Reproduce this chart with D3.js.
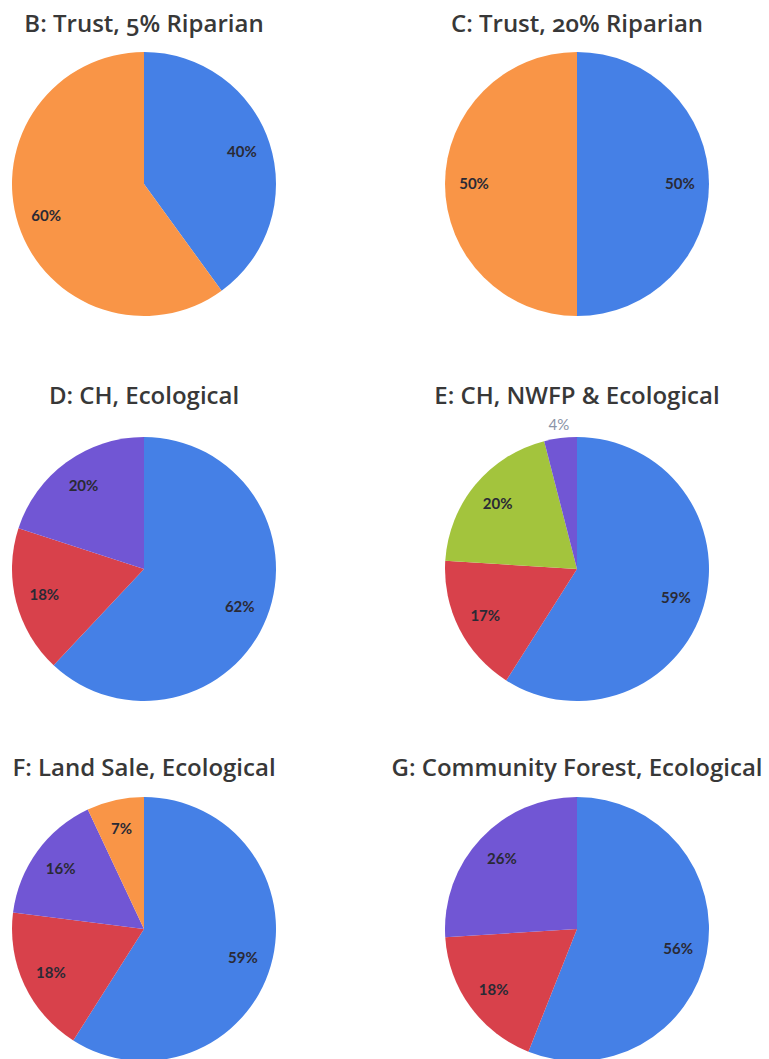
<!DOCTYPE html>
<html>
<head>
<meta charset="utf-8">
<script src="https://cdn.jsdelivr.net/npm/d3@7"></script>
<style>
  html, body { margin: 0; padding: 0; background: #fff; overflow: hidden; }
  svg { display: block; }
  .title { font-family: "Open Sans", Lato, sans-serif; font-size: 24px; font-weight: 600; fill: #383838; font-variant-numeric: oldstyle-nums; }
  .lbl { font-family: Lato, "Open Sans", sans-serif; font-size: 15px; font-weight: bold; fill: #2a2a35; }
</style>
</head>
<body>
<div id="chart"></div>
<script>
// chart data
var titles = ["B: Trust, 5% Riparian", "C: Trust, 20% Riparian",
              "D: CH, Ecological", "E: CH, NWFP & Ecological",
              "F: Land Sale, Ecological", "G: Community Forest, Ecological"];
var categories = [["cat1", "cat5"], ["cat1", "cat5"],
                  ["cat1", "cat2", "cat3"], ["cat1", "cat2", "cat4", "cat3"],
                  ["cat1", "cat2", "cat3", "cat5"], ["cat1", "cat2", "cat3"]];
var values = [[40, 60], [50, 50],
              [62, 18, 20], [59, 17, 20, 4],
              [59, 18, 16, 7], [56, 18, 26]];

var W = 769, H = 1059, r = 132;
var colX = [144, 577], rowY = [184, 569, 929], titleY = [32, 404, 776];

var color = d3.scaleOrdinal()
  .domain(["cat1", "cat2", "cat3", "cat4", "cat5"])
  .range(["#4580e6", "#d8414b", "#7156d4", "#a3c43d", "#f99547"]);

var svg = d3.select('#chart').append('svg').attr('width', W).attr('height', H);

var pie = d3.pie().sort(null).value(function(d) { return d.v; });
var arc = d3.arc().innerRadius(0).outerRadius(r);
var lblArc = d3.arc().innerRadius(r * 0.78).outerRadius(r * 0.78);
var outArc = d3.arc().innerRadius(r * 1.1).outerRadius(r * 1.1);

titles.forEach(function(t, i) {
  var cx = colX[i % 2], row = Math.floor(i / 2);
  svg.append('text').attr('class', 'title')
    .attr('x', cx).attr('y', titleY[row]).attr('text-anchor', 'middle').text(t);

  var rows = values[i].map(function(v, j) { return { v: v, c: categories[i][j] }; });
  var g = svg.append('g').attr('transform', 'translate(' + cx + ',' + rowY[row] + ')');
  var slices = pie(rows);

  g.selectAll('path').data(slices).enter().append('path')
    .attr('d', arc).attr('fill', function(d) { return color(d.data.c); });

  g.selectAll('text').data(slices).enter().append('text')
    .attr('class', 'lbl')
    .attr('transform', function(d) {
      return 'translate(' + (d.data.v < 5 ? outArc : lblArc).centroid(d) + ')';
    })
    .attr('text-anchor', 'middle').attr('dy', '0.35em')
    .style('fill', function(d) { return d.data.v < 5 ? '#8a93a6' : null; })
    .style('font-weight', function(d) { return d.data.v < 5 ? 'normal' : null; })
    .text(function(d) { return d.data.v + '%'; });
});
</script>
</body>
</html>
